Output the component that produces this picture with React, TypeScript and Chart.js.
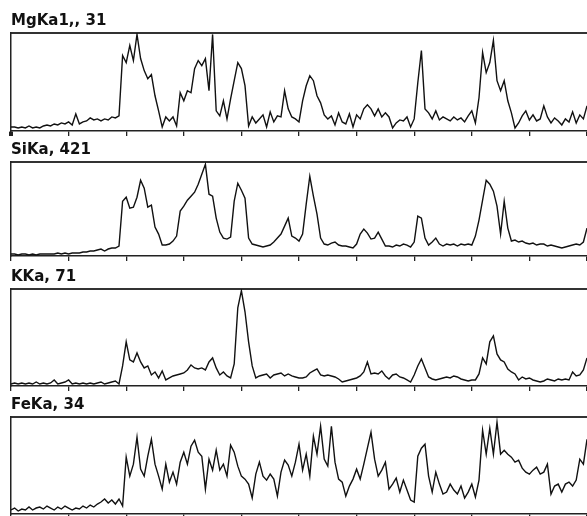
import { useEffect, useRef } from "react";
import { Chart, registerables } from "chart.js";

Chart.register(...registerables);

// ---- data ----
const TITLES = ["MgKa1,, 31", "SiKa, 421", "KKa, 71", "FeKa, 34"];
const SCAN_MAX = 100; // scan length, arbitrary units (one tick every 10)
const TICK_STEP = 10;
const SAMPLE_STEP = 0.625; // distance between samples along the scan

const mgKa = [
  4, 4, 3, 4, 3, 5, 3, 4, 3, 5, 6,
  5, 7, 6, 8, 7, 9, 6, 17, 7, 9,
  10, 13, 11, 12, 10, 12, 11, 14, 13, 15,
  75, 68, 85, 70, 96, 72, 60, 52, 56, 35,
  20, 4, 14, 10, 14, 5, 38, 30, 40, 38,
  62, 70, 65, 72, 40, 96, 20, 15, 30, 12,
  32, 50, 68, 62, 45, 5, 14, 8, 12, 16,
  4, 19, 9, 15, 14, 40, 22, 14, 12, 9,
  30, 45, 55, 50, 35, 28, 16, 12, 15, 6,
  18, 9, 7, 17, 4, 16, 12, 22, 26, 22,
  15, 22, 14, 18, 14, 3, 8, 11, 10, 14,
  4, 12, 48, 80, 22, 18, 12, 20, 11, 14,
  12, 10, 14, 11, 13, 9, 15, 20, 8, 33,
  78, 58, 68, 90, 50, 40, 50, 30, 18, 3,
  8, 15, 20, 11, 16, 10, 12, 25, 14, 8,
  13, 10, 6, 12, 9, 19, 8, 16, 12, 25,
];

const siKa = [
  2, 2, 1, 2, 2, 1, 2, 1, 2, 2, 2,
  2, 2, 3, 2, 3, 2, 3, 3, 3, 4,
  4, 5, 5, 6, 7, 5, 7, 8, 8, 10,
  55, 59, 48, 49, 59, 76, 68, 49, 51, 29,
  22, 11, 11, 12, 15, 20, 45, 50, 56, 60,
  64, 72, 82, 92, 62, 60, 38, 24, 18, 17,
  19, 55, 73, 66, 58, 18, 12, 11, 10, 9,
  10, 11, 14, 18, 22, 30, 38, 20, 18, 15,
  22, 52, 80, 60, 42, 18, 12, 11, 13, 14,
  11, 10, 10, 9, 8, 12, 22, 27, 23, 17,
  18, 24, 17, 10, 10, 9, 11, 10, 12, 11,
  9, 14, 40, 38, 18, 11, 14, 18, 12, 10,
  12, 11, 12, 10, 12, 11, 12, 11, 20, 36,
  56, 76, 72, 65, 50, 22, 55, 28, 15, 16,
  14, 15, 13, 12, 13, 11, 12, 12, 10, 11,
  10, 9, 8, 9, 10, 11, 12, 11, 14, 28,
];

const kKa = [
  2, 3, 2, 3, 2, 3, 2, 4, 2, 3, 2,
  3, 6, 2, 3, 4, 6, 2, 3, 2, 3,
  2, 3, 2, 3, 4, 2, 3, 4, 5, 2,
  20, 44, 26, 24, 33, 24, 18, 20, 11, 14,
  8, 15, 6, 8, 10, 11, 12, 13, 16, 21,
  18, 17, 18, 16, 24, 28, 18, 11, 14, 10,
  8, 22, 78, 95, 74, 44, 20, 8, 10, 11,
  12, 8, 11, 12, 13, 10, 12, 10, 9, 8,
  8, 9, 13, 15, 17, 11, 10, 11, 10, 9,
  7, 4, 5, 6, 7, 8, 10, 14, 24, 12,
  13, 12, 15, 10, 7, 11, 12, 9, 8, 6,
  4, 11, 20, 27, 18, 9, 7, 6, 7, 8,
  9, 8, 10, 9, 7, 6, 5, 6, 6, 12,
  28, 22, 44, 50, 32, 26, 24, 17, 14, 12,
  6, 9, 7, 8, 6, 5, 4, 5, 7, 6,
  5, 7, 6, 7, 6, 14, 10, 11, 16, 28,
];

const feKa = [
  4, 6, 3, 5, 4, 7, 4, 6, 7, 5, 8,
  6, 4, 7, 5, 8, 6, 4, 6, 5, 8,
  6, 9, 7, 10, 12, 15, 11, 14, 10, 15,
  8, 57, 38, 50, 77, 45, 38, 58, 75, 50,
  38, 25, 50, 32, 42, 30, 52, 62, 50, 68,
  74, 62, 58, 25, 55, 44, 64, 44, 50, 38,
  69, 62, 48, 38, 35, 30, 16, 40, 52, 38,
  34, 40, 35, 18, 42, 54, 49, 38, 52, 70,
  44, 60, 38, 78, 60, 88, 55, 48, 88, 52,
  35, 32, 18, 28, 35, 45, 35, 50, 66, 82,
  55, 38, 44, 52, 25, 30, 36, 22, 34, 24,
  14, 12, 58, 66, 70, 38, 22, 42, 30, 20,
  22, 30, 24, 20, 28, 16, 22, 30, 17, 34,
  84, 60, 86, 60, 92, 60, 64, 60, 57, 52,
  54, 46, 42, 40, 44, 47, 40, 42, 50, 20,
  28, 30, 22, 30, 32, 28, 34, 55, 50, 75,
];

const SERIES = [mgKa, siKa, kKa, feKa];
const Y_MAX = [97.4, 94.3, 96.7, 97.3];

// ---- layout ----
const PLOT_TOPS = [33, 162, 289, 417];
const PLOT_HEIGHTS = [98, 94, 97, 97];
const TITLE_SPACE = 33;
const BOTTOM_SPACE = 7;

function Panel({ idx }: { idx: number }) {
  const ref = useRef<HTMLCanvasElement | null>(null);
  const h = TITLE_SPACE + PLOT_HEIGHTS[idx] + BOTTOM_SPACE;
  const top = PLOT_TOPS[idx] - TITLE_SPACE;

  useEffect(() => {
    const values = SERIES[idx];
    const points = values.map((v, i) => ({ x: i * SAMPLE_STEP, y: v }));
    const chart = new Chart(ref.current as HTMLCanvasElement, {
      type: "line",
      data: {
        datasets: [
          {
            data: points,
            borderColor: "#111",
            borderWidth: 1.4,
            pointRadius: 0,
            tension: 0,
            fill: false,
          },
        ],
      },
      options: {
        animation: false,
        responsive: false,
        devicePixelRatio: 1,
        layout: { padding: { left: 11, right: 0, top: 0, bottom: 2 } },
        plugins: {
          legend: { display: false },
          tooltip: { enabled: false },
          title: {
            display: true,
            text: TITLES[idx],
            align: "start",
            color: "#111",
            font: { family: "DejaVu Sans", size: 15, weight: "bold", lineHeight: 1.2 },
            padding: { top: 12, bottom: 3 },
          },
        },
        scales: {
          x: {
            type: "linear",
            position: "bottom",
            min: 0,
            max: SCAN_MAX,
            ticks: { display: false, stepSize: TICK_STEP },
            grid: {
              display: true,
              drawOnChartArea: false,
              drawTicks: true,
              tickLength: 5,
              color: "#222",
              lineWidth: (c: any) => (idx === 0 && c.index === 0 ? 4 : 1.3),
            },
            border: { display: true, color: "#222", width: 1.6 },
          },
          xTop: {
            type: "linear",
            position: "top",
            min: 0,
            max: SCAN_MAX,
            ticks: { display: false },
            grid: { display: false, drawTicks: false, tickLength: 0 },
            border: { display: true, color: "#333", width: 2 },
          },
          y: {
            type: "linear",
            position: "left",
            min: 0,
            max: Y_MAX[idx],
            ticks: { display: false },
            grid: { display: false, drawTicks: false, tickLength: 0 },
            border: { display: true, color: "#222", width: 1.5 },
          },
        },
      } as any,
    });
    return () => chart.destroy();
  }, [idx]);

  return (
    <canvas
      ref={ref}
      width={587}
      height={h}
      style={{ position: "absolute", left: 0, top, width: 587, height: h }}
    />
  );
}

export default function App() {
  return (
    <div
      style={{
        position: "absolute",
        left: 0,
        top: 0,
        width: 587,
        height: 516,
        overflow: "hidden",
        background: "#fff",
      }}
    >
      {TITLES.map((_, i) => (
        <Panel key={i} idx={i} />
      ))}
    </div>
  );
}
